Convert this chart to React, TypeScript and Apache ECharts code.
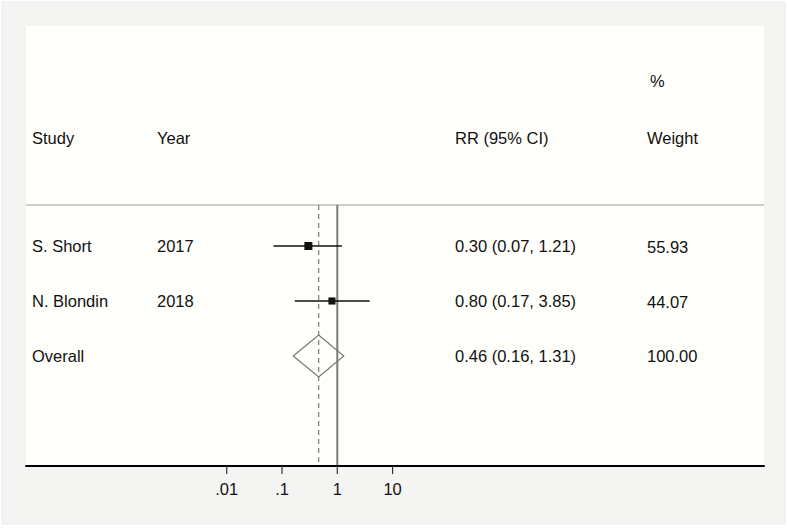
import { useEffect, useRef } from "react";
import * as echarts from "echarts";

// ---- data ----
const studies = ["S. Short", "N. Blondin"];
const years = ["2017", "2018"];
const rrValues = [0.3, 0.8];
const ciLow = [0.07, 0.17];
const ciHigh = [1.21, 3.85];
const weights = [55.93, 44.07];
const overallLabel = "Overall";
const overallRR = 0.46;
const overallLow = 0.16;
const overallHigh = 1.31;
const overallWeight = 100.0;
const headerCols = ["Study", "Year", "RR (95% CI)", "Weight"];
const headerTop = "%";
const tickValues = [0.01, 0.1, 1, 10];
const tickLabels = [".01", ".1", "1", "10"];
const nullValue = 1;

// ---- layout ----
const PLOT_LEFT = 26;
const PLOT_TOP = 26;
const PLOT_W = 738;
const PLOT_H = 440;
const ONE_X = 337.3;
const DECADE = 55.3;
const X_MIN = Math.pow(10, (PLOT_LEFT - ONE_X) / DECADE);
const X_MAX = Math.pow(10, (PLOT_LEFT + PLOT_W - ONE_X) / DECADE);
const Y_MIN = -4;
const Y_MAX = 4;
const ROW_HEADER_PCT = -3.0;
const ROW_HEADER = -1.96;
const HEADER_LINE_ROW = -0.745;
const COL_X = [32, 157, 455, 647];
const PCT_X = 650;
const FONT = '"Liberation Sans", Arial, Helvetica, sans-serif';
const FONT_SIZE = 16.5;
const TEXT_COLOR = "#111";

const fmt = (v: number) => v.toFixed(2);

export default function App() {
  const ref = useRef<HTMLDivElement>(null);
  useEffect(() => {
    document.body.style.margin = "0";
    if (!ref.current) return;
    const chart = echarts.init(ref.current, null, { renderer: "svg" });

    const studyData = studies.map((_, i) => [rrValues[i], ciLow[i], ciHigh[i], i, weights[i]]);
    const overallRow = studies.length;

    chart.setOption({
      animation: false,
      backgroundColor: "#ffffff",
      grid: [
        {
          left: PLOT_LEFT,
          top: PLOT_TOP,
          width: PLOT_W,
          height: PLOT_H,
          show: true,
          backgroundColor: "#fffffb",
          borderWidth: 0,
          z: 1,
        },
      ],
      xAxis: [
        {
          type: "log",
          logBase: 10,
          gridIndex: 0,
          position: "bottom",
          min: X_MIN,
          max: X_MAX,
          axisLine: { show: true, onZero: false, lineStyle: { color: "#000", width: 2 } },
          axisTick: { show: false },
          axisLabel: { show: false },
          splitLine: { show: false },
          z: 5,
        },
      ],
      yAxis: [
        { type: "value", gridIndex: 0, inverse: true, min: Y_MIN, max: Y_MAX, show: false },
      ],
      series: [
        {
          type: "line",
          name: "header-line",
          symbol: "none",
          silent: true,
          data: [
            [X_MIN, HEADER_LINE_ROW],
            [X_MAX, HEADER_LINE_ROW],
          ],
          lineStyle: { color: "#bdbdb8", width: 1.5 },
          z: 3,
        },
        {
          type: "line",
          name: "null-line",
          symbol: "none",
          silent: true,
          data: [
            [nullValue, HEADER_LINE_ROW],
            [nullValue, Y_MAX],
          ],
          lineStyle: { color: "#7a7a7a", width: 2 },
          z: 3,
        },
        {
          type: "line",
          name: "overall-line",
          symbol: "none",
          silent: true,
          data: [
            [overallRR, HEADER_LINE_ROW],
            [overallRR, Y_MAX],
          ],
          lineStyle: { color: "#8a8a8a", width: 1.4, type: [5, 4] },
          z: 3,
        },
        {
          type: "custom",
          name: "axis-ticks",
          silent: true,
          z: 6,
          data: tickValues.map((v, i) => [v, Y_MAX, i]),
          encode: { x: 0, y: 1 },
          clip: false,
          renderItem: (params: any, api: any) => {
            const p = api.coord([api.value(0), api.value(1)]);
            const idx = api.value(2);
            return {
              type: "group",
              children: [
                {
                  type: "line",
                  shape: { x1: p[0], y1: p[1], x2: p[0], y2: p[1] + 8 },
                  style: { stroke: "#333", lineWidth: 1.2 },
                },
                {
                  type: "text",
                  x: p[0],
                  y: p[1] + 14,
                  style: {
                    text: tickLabels[idx],
                    fill: TEXT_COLOR,
                    font: `${FONT_SIZE}px ${FONT}`,
                    textAlign: "center",
                    textVerticalAlign: "top",
                    verticalAlign: "top",
                  },
                },
              ],
            };
          },
        },
        {
          type: "custom",
          name: "studies",
          z: 4,
          data: studyData,
          encode: { x: [0, 1, 2], y: 3 },
          renderItem: (params: any, api: any) => {
            const est = api.value(0);
            const lo = api.value(1);
            const hi = api.value(2);
            const row = api.value(3);
            const w = api.value(4);
            const pLo = api.coord([lo, row]);
            const pHi = api.coord([hi, row]);
            const pEst = api.coord([est, row]);
            const s = Math.sqrt(w) * 1.07;
            return {
              type: "group",
              children: [
                {
                  type: "line",
                  shape: { x1: pLo[0], y1: pLo[1], x2: pHi[0], y2: pHi[1] },
                  style: { stroke: "#111", lineWidth: 1.5 },
                },
                {
                  type: "rect",
                  shape: { x: pEst[0] - s / 2, y: pEst[1] - s / 2, width: s, height: s },
                  style: { fill: "#111" },
                },
              ],
            };
          },
        },
        {
          type: "custom",
          name: "overall",
          z: 4,
          data: [[overallRR, overallLow, overallHigh, overallRow]],
          encode: { x: [0, 1, 2], y: 3 },
          renderItem: (params: any, api: any) => {
            const est = api.value(0);
            const lo = api.value(1);
            const hi = api.value(2);
            const row = api.value(3);
            const pLo = api.coord([lo, row]);
            const pHi = api.coord([hi, row]);
            const pEst = api.coord([est, row]);
            const h = 21;
            return {
              type: "polygon",
              shape: {
                points: [
                  [pLo[0], pLo[1]],
                  [pEst[0], pEst[1] - h],
                  [pHi[0], pHi[1]],
                  [pEst[0], pEst[1] + h],
                ],
              },
              style: { fill: "none", stroke: "#777", lineWidth: 1.2 },
            };
          },
        },
      ],
    });

    const yPix = (row: number) => chart.convertToPixel({ yAxisIndex: 0 }, row) as number;
    const txt = (text: string, x: number, y: number) => ({
      type: "text",
      x,
      y,
      z: 10,
      style: {
        text,
        fill: TEXT_COLOR,
        font: `${FONT_SIZE}px ${FONT}`,
        textAlign: "left",
        textVerticalAlign: "middle",
        verticalAlign: "middle",
      },
    });

    const graphics: any[] = [
      {
        type: "rect",
        z: -10,
        silent: true,
        shape: { x: 2, y: 2, width: 783, height: 522 },
        style: { fill: "#f4f4f3", stroke: "#ececec", lineWidth: 1 },
      },
      txt(headerTop, PCT_X, yPix(ROW_HEADER_PCT)),
    ];
    headerCols.forEach((h, i) => graphics.push(txt(h, COL_X[i], yPix(ROW_HEADER))));
    studies.forEach((s, i) => {
      const y = yPix(i);
      graphics.push(txt(s, COL_X[0], y));
      graphics.push(txt(years[i], COL_X[1], y));
      graphics.push(txt(`${fmt(rrValues[i])} (${fmt(ciLow[i])}, ${fmt(ciHigh[i])})`, COL_X[2], y));
      graphics.push(txt(fmt(weights[i]), COL_X[3], y + 1));
    });
    const oy = yPix(overallRow);
    graphics.push(txt(overallLabel, COL_X[0], oy));
    graphics.push(txt(`${fmt(overallRR)} (${fmt(overallLow)}, ${fmt(overallHigh)})`, COL_X[2], oy));
    graphics.push(txt(fmt(overallWeight), COL_X[3], oy));

    chart.setOption({ graphic: graphics });

    return () => chart.dispose();
  }, []);
  return <div ref={ref} style={{ width: 787, height: 528 }} />;
}
